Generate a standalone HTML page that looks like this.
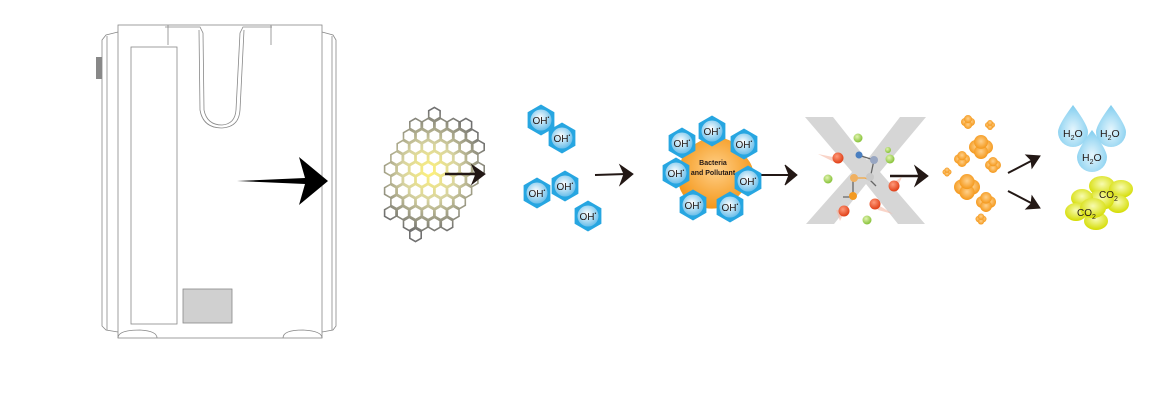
<!DOCTYPE html>
<html><head><meta charset="utf-8"><style>
html,body{margin:0;padding:0;background:#fff;width:1158px;height:408px;overflow:hidden}
svg{display:block}
text{font-family:"Liberation Sans",sans-serif}
</style></head><body>
<svg id="s" width="1158" height="408" viewBox="0 0 1158 408" xmlns="http://www.w3.org/2000/svg">
<defs>
<radialGradient id="hg" cx="430" cy="172" r="62" gradientUnits="userSpaceOnUse">
<stop offset="0" stop-color="#fff27a"/><stop offset="0.45" stop-color="#d8d4a0"/><stop offset="1" stop-color="#707070"/></radialGradient>
<radialGradient id="oh" cx="0.45" cy="0.4" r="0.6"><stop offset="0" stop-color="#fff"/><stop offset="1" stop-color="#6cbfea"/></radialGradient>
<radialGradient id="org" cx="0.5" cy="0.45" r="0.6"><stop offset="0" stop-color="#ffd08a"/><stop offset="1" stop-color="#f3920f"/></radialGradient>
<radialGradient id="drop" cx="0.5" cy="0.6" r="0.6"><stop offset="0" stop-color="#e6f6fd"/><stop offset="1" stop-color="#80cdef"/></radialGradient>
<radialGradient id="yel" cx="0.5" cy="0.4" r="0.6"><stop offset="0" stop-color="#f8fbb0"/><stop offset="1" stop-color="#d4dc00"/></radialGradient>
<radialGradient id="red" cx="0.4" cy="0.35" r="0.6"><stop offset="0" stop-color="#ff9a7a"/><stop offset="1" stop-color="#e2451d"/></radialGradient>
<radialGradient id="grn" cx="0.4" cy="0.35" r="0.6"><stop offset="0" stop-color="#e2f3b0"/><stop offset="1" stop-color="#8cc540"/></radialGradient>
</defs>
<!-- device -->
<g fill="none" stroke="#888" stroke-width="0.8">
<rect x="118" y="25" width="204" height="313" fill="#fff"/>
<path d="M118 32 L106 35 L102 40 L102 326 L106 330 L118 332"/>
<path d="M322 32 L333 35 L336 40 L336 326 L333 330 L322 332"/>
<line x1="107" y1="36" x2="107" y2="330"/><line x1="332" y1="36" x2="332" y2="330"/>
<rect x="131" y="47" width="46" height="277"/>
<path d="M118 338 Q118 330 140 330 Q157 331 157 338"/>
<path d="M283 338 Q283 330 303 330 Q322 331 322 338"/>
<path d="M168 25 L168 45 M271 25 L271 45 M165 27 L200 27 L203 33 L204 110 Q207 125 222 125 Q235 124 236 110 L240 33 L243 27 L272 27"/>
<path d="M199 30 L200 110 Q203 128 222 128 Q239 127 240 110 L244 30"/>
</g>
<rect x="96" y="57" width="6" height="22" fill="#888"/>
<rect x="183" y="289" width="49" height="34" fill="#d0d0d0" stroke="#888" stroke-width="0.8"/>
<path d="M237 181 L305 178 L299 157 L328 181 L299 205 L305 184 Z" fill="#000"/>
<g id="hex"></g>
<!-- arrows -->
<g fill="#231815" stroke="#231815">
<line x1="445" y1="174" x2="478" y2="174" stroke-width="2.5"/><path d="M472 165 L485 174 L472 184 L476 174Z"/>
<line x1="595" y1="175" x2="626" y2="174" stroke-width="2"/><path d="M620 165 L633 174 L620 185 L624 174Z"/>
<line x1="760" y1="175" x2="790" y2="175" stroke-width="2"/><path d="M785 165 L797 175 L785 185 L789 175Z"/>
<line x1="890" y1="176" x2="921" y2="176" stroke-width="2.5"/><path d="M915 166 L928 176 L915 186 L919 176Z"/>
<line x1="1008" y1="173" x2="1033" y2="160" stroke-width="2"/><path d="M1026 155 L1040 156 L1032 168 L1031 160Z"/>
<line x1="1008" y1="191" x2="1033" y2="204" stroke-width="2"/><path d="M1026 209 L1040 208 L1032 196 L1031 204Z"/>
</g>
<g id="ohs"></g>
<!-- X -->
<g>
<path d="M805 117 L833 117 L867 160 L900 117 L926 117 L880 172 L925 224 L898 224 L866 184 L834 224 L806 224 L852 172 Z" fill="#d6d6d6"/>
<g fill="#f6b8a4" opacity="0.6">
<path d="M818 154 L838 158 L836 163 Z"/><path d="M836 210 L845 211 L840 221 Z"/><path d="M875 203 L893 214 L878 210Z"/><path d="M892 183 L902 177 L897 188Z"/>
</g>
<g stroke="#666" stroke-width="1.3" fill="none"><path d="M858 155 L874 160 L870 179 M853 178 L853 194 M870 180 L876 186 M852 197 L843 197"/></g>
<g stroke="#f3a640" stroke-width="1.3" fill="none"><path d="M853 178 L865 178 L870 180"/></g>
<circle cx="858" cy="138" r="4.5" fill="url(#grn)"/><circle cx="888" cy="150" r="3" fill="url(#grn)"/><circle cx="890" cy="159" r="4.5" fill="url(#grn)"/>
<circle cx="828" cy="179" r="4.5" fill="url(#grn)"/><circle cx="867" cy="220" r="4.5" fill="url(#grn)"/>
<circle cx="838" cy="158" r="5.5" fill="url(#red)"/><circle cx="894" cy="186" r="5.5" fill="url(#red)"/><circle cx="875" cy="204" r="5.5" fill="url(#red)"/><circle cx="844" cy="211" r="5.5" fill="url(#red)"/>
<circle cx="859" cy="155" r="3.5" fill="#4a7fc0"/><circle cx="874" cy="160" r="4" fill="#98a6c2"/><circle cx="870" cy="177" r="4" fill="#c8c8c8"/>
<circle cx="854" cy="178" r="4" fill="#f0b060"/><circle cx="853" cy="196" r="4" fill="#f39a22"/>
</g>
<g id="blobs"></g>
<!-- drops -->
<g>
<path d="M1073 105 Q1088 125 1088 132 A15 15 0 1 1 1058 132 Q1058 125 1073 105Z" fill="url(#drop)"/>
<path d="M1111 105 Q1126 125 1126 132 A15 15 0 1 1 1096 132 Q1096 125 1111 105Z" fill="url(#drop)"/>
<path d="M1092 130 Q1107 150 1107 157 A15 15 0 1 1 1077 157 Q1077 150 1092 130Z" fill="url(#drop)"/>
<text x="1063" y="137" font-size="10.5" fill="#231815">H<tspan font-size="7" dy="3">2</tspan><tspan dy="-3">O</tspan></text>
<text x="1100" y="137" font-size="10.5" fill="#231815">H<tspan font-size="7" dy="3">2</tspan><tspan dy="-3">O</tspan></text>
<text x="1082" y="161" font-size="10.5" fill="#231815">H<tspan font-size="7" dy="3">2</tspan><tspan dy="-3">O</tspan></text>
</g>
<g fill="url(#yel)">
<ellipse cx="1102" cy="186" rx="13" ry="10"/><ellipse cx="1121" cy="189" rx="12" ry="9"/><ellipse cx="1118" cy="204" rx="11" ry="9"/><ellipse cx="1101" cy="200" rx="13" ry="10"/>
<ellipse cx="1082" cy="198" rx="11" ry="9"/><ellipse cx="1076" cy="212" rx="11" ry="9"/><ellipse cx="1096" cy="221" rx="12" ry="9"/><ellipse cx="1093" cy="208" rx="13" ry="10"/>
</g>
<text x="1099" y="198" font-size="10" fill="#231815">CO<tspan font-size="7" dy="3">2</tspan></text>
<text x="1077" y="216" font-size="10" fill="#231815">CO<tspan font-size="7" dy="3">2</tspan></text>
</svg>
<script>
var NS="http://www.w3.org/2000/svg";
function el(p,t,a){var e=document.createElementNS(NS,t);for(var k in a)e.setAttribute(k,a[k]);p.appendChild(e);return e;}
function hexPts(cx,cy,r){var s="";for(var i=0;i<6;i++){var a=Math.PI/3*i-Math.PI/2;s+=(cx+r*Math.cos(a)).toFixed(1)+","+(cy+r*Math.sin(a)).toFixed(1)+" ";}return s;}
var hg=document.getElementById("hex");
var rows=[[432,432],[408,468],[402,468],[402,474],[396,468],[390,474],[390,468],[390,468],[390,456],[390,456],[408,444],[420,420]];
var dx=12.6,dy=11;
for(var r=0;r<rows.length;r++){var y=114+r*dy;var off=(r%2)?6.3:0;
 for(var x=384+off;x<=482;x+=dx){ if(x>=rows[r][0]-5&&x<=rows[r][1]+5) el(hg,"polygon",{points:hexPts(x,y,6.6),fill:"none",stroke:"url(#hg)","stroke-width":"1.6"});}}
var og=document.getElementById("ohs");
el(og,"path",{d:"M712 136 Q737 138 746 157 Q762 175 742 192 Q726 212 705 208 Q680 202 678 180 Q676 148 712 136Z",fill:"url(#org)"});
el(og,"text",{x:713,y:165,"font-size":"7","text-anchor":"middle",fill:"#231815","font-weight":"bold"}).textContent="Bacteria";
el(og,"text",{x:713,y:175,"font-size":"7","text-anchor":"middle",fill:"#231815","font-weight":"bold"}).textContent="and Pollutant";
var ohs=[[541,120],[562,138],[537,193],[565,186],[588,216],[682,143],[712,131],[744,144],[676,173],[748,181],[693,205],[730,207]];
ohs.forEach(function(p){el(og,"polygon",{points:hexPts(p[0],p[1],15.5),fill:"#27a6e1"});
 el(og,"circle",{cx:p[0],cy:p[1],r:10.5,fill:"url(#oh)"});
 var t=el(og,"text",{x:p[0]-8.5,y:p[1]+4,"font-size":"10",fill:"#231815"});t.textContent="OH";
 el(og,"text",{x:p[0]+6.5,y:p[1]-1,"font-size":"5",fill:"#231815"}).textContent="•";});
var bg=document.getElementById("blobs");
function blob(cx,cy,s){var g=el(bg,"g",{fill:"url(#org)"});
 el(g,"circle",{cx:cx,cy:cy,r:s*0.8});[[1,0],[-1,0],[0,1],[0,-1]].forEach(function(d){el(g,"circle",{cx:cx+d[0]*s*0.42,cy:cy+d[1]*s*0.42,r:s*0.58});});}
blob(968,122,7);blob(990,125,5);blob(981,147,12);blob(962,159,8);blob(993,165,8);blob(947,172,4.5);blob(967,187,13);blob(986,202,10);blob(981,219,5.5);
</script>
</body></html>
